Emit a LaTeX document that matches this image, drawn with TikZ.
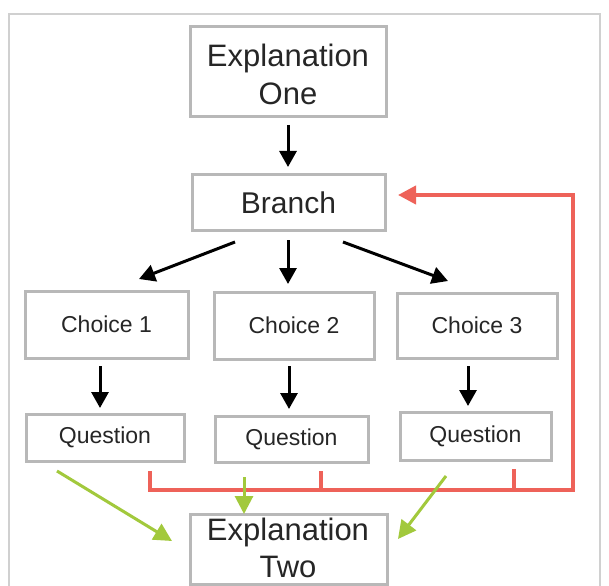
\documentclass[tikz,border=0pt]{standalone}
\usepackage{fontspec}
\setmainfont{Liberation Sans}
\usetikzlibrary{arrows.meta}
\definecolor{boxgray}{HTML}{B8B8B8}
\definecolor{framegray}{HTML}{D0D0D0}
\definecolor{redl}{HTML}{EE6259}
\definecolor{greenl}{HTML}{A2C93C}
\definecolor{txt}{HTML}{262626}
\begin{document}
\begin{tikzpicture}[x=1pt,y=-1pt,
  box/.style={draw=boxgray,line width=3pt,fill=white,inner sep=0pt,text=txt,align=center},
  lbl/.style={inner sep=0pt,text=txt,align=center},
  blk/.style={line width=3pt,-{Triangle[length=16pt,width=17pt]}},
  grn/.style={draw=greenl,line width=3pt,-{Triangle[length=18pt,width=18pt]}},
  red/.style={draw=redl,line width=4pt}]
\useasboundingbox (0,0) rectangle (609,585);
\fill[white] (0,0) rectangle (609,585);
\draw[framegray,line width=1.2pt] (9,600) -- (9,14) -- (600,14) -- (600,600);
% boxes
\node[box,minimum width=196pt,minimum height=90pt] (e1) at (288,72) {};
\node[lbl,font=\fontsize{31}{38}\selectfont] (e1t) at (288,74) {Explanation\\One};
\node[box,minimum width=193pt,minimum height=55pt,font=\fontsize{30}{32}\selectfont] (br) at (288.5,202.5) {Branch};
\node[box,minimum width=163pt,minimum height=67pt,font=\fontsize{23}{26}\selectfont] (c1) at (106.5,324.5) {Choice 1};
\node[box,minimum width=160pt,minimum height=67pt,font=\fontsize{23}{26}\selectfont] (c2) at (294,325.5) {Choice 2};
\node[box,minimum width=160pt,minimum height=65pt,font=\fontsize{23}{26}\selectfont] (c3) at (477,325.5) {Choice 3};
\node[box,minimum width=158pt,minimum height=47pt,font=\fontsize{23}{26}\selectfont] (q1) at (105,437.5) {Question};
\node[box,minimum width=153pt,minimum height=46pt,font=\fontsize{23}{26}\selectfont] (q2) at (291.5,439) {Question};
\node[box,minimum width=151pt,minimum height=48pt,font=\fontsize{23}{26}\selectfont] (q3) at (475.5,436) {Question};
\node[box,minimum width=197pt,minimum height=70pt] (e2) at (288.5,549) {};
\node[lbl,font=\fontsize{31}{37}\selectfont] (e2t) at (288,548) {Explanation\\Two};
% black arrows
\coordinate (a0) at (288,125); \coordinate (a1) at (288,167);
\draw[blk] (a0) -- (a1);
\coordinate (b1s) at (235,242); \coordinate (b1e) at (139,279);
\coordinate (b2s) at (288,240); \coordinate (b2e) at (288,284);
\coordinate (b3s) at (343,242); \coordinate (b3e) at (448,281);
\draw[blk] (b1s) -- (b1e);
\draw[blk] (b2s) -- (b2e);
\draw[blk] (b3s) -- (b3e);
\coordinate (d1s) at (100,366); \coordinate (d1e) at (100,408);
\coordinate (d2s) at (289,366); \coordinate (d2e) at (289,409);
\coordinate (d3s) at (468,366); \coordinate (d3e) at (468,406);
\draw[blk] (d1s) -- (d1e);
\draw[blk] (d2s) -- (d2e);
\draw[blk] (d3s) -- (d3e);
% red loop
\coordinate (r1) at (150,471); \coordinate (r2) at (150,490);
\coordinate (r3) at (573,490); \coordinate (r4) at (573,195);
\coordinate (r5) at (398,195);
\coordinate (t2) at (321,471); \coordinate (t2b) at (321,490);
\coordinate (t3) at (514,469); \coordinate (t3b) at (514,490);
\draw[red,line join=miter,-{Triangle[length=18pt,width=18pt]}] (r1) -- (r2) -- (r3) -- (r4) -- (r5);
\draw[red] (t2) -- (t2b);
\draw[red] (t3) -- (t3b);
% green arrows
\coordinate (g1s) at (57,471); \coordinate (g1e) at (172,541);
\coordinate (g2s) at (244,477); \coordinate (g2e) at (244,514);
\coordinate (g3s) at (446,476); \coordinate (g3e) at (398,539);
\draw[grn] (g1s) -- (g1e);
\draw[grn] (g2s) -- (g2e);
\draw[grn] (g3s) -- (g3e);
\end{tikzpicture}
\end{document}
